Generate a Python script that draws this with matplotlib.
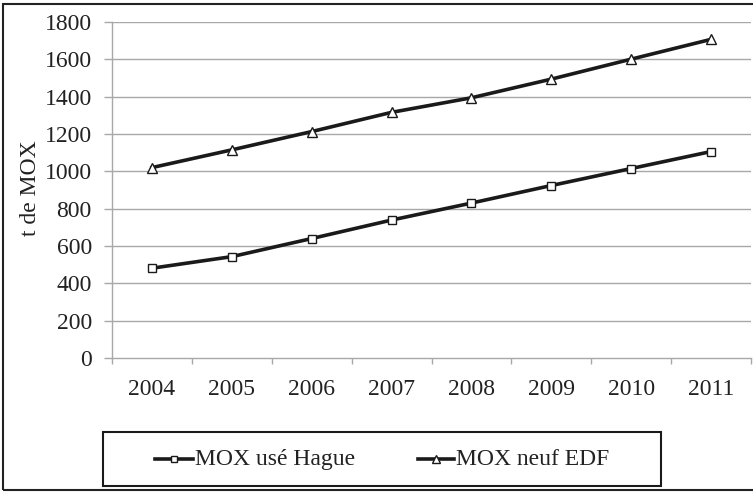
import matplotlib
matplotlib.use("Agg")
import matplotlib.pyplot as plt
from matplotlib.lines import Line2D
from matplotlib.patches import Rectangle
from matplotlib.font_manager import FontProperties
import numpy as np

years = ["2004", "2005", "2006", "2007", "2008", "2009", "2010", "2011"]
mox_use_hague = [481, 543, 640, 739, 830, 924, 1015, 1106]
mox_neuf_edf = [1020, 1115, 1213, 1316, 1394, 1494, 1601, 1707]
series_names = ["MOX usé Hague", "MOX neuf EDF"]
y_ticks = [0, 200, 400, 600, 800, 1000, 1200, 1400, 1600, 1800]

plt.rcParams['font.family'] = 'serif'
plt.rcParams['font.serif'] = ['Liberation Serif', 'DejaVu Serif']
FS = 17
fp = FontProperties(family='Liberation Serif', size=FS)

W, H = 753, 494
fig = plt.figure(figsize=(W / 100, H / 100), dpi=100)
fig.patch.set_facecolor("white")

ax = fig.add_axes([112 / W, 1 - 358 / H, (751 - 112) / W, (358 - 22) / H])
x = np.arange(len(years))
grid_c = "#a8a8a8"
ink = "#1a1a1a"
txt = "#222222"

ax.plot(x, mox_use_hague, color=ink, lw=2.6, marker="s", ms=6,
        mfc="white", mec=ink, mew=1.0, zorder=3)
ax.plot(x, mox_neuf_edf, color=ink, lw=2.6, marker="^", ms=6.5,
        mfc="white", mec=ink, mew=1.0, zorder=3)

ax.set_xlim(-0.5, len(years) - 0.5)
ax.set_ylim(0, 1800)
ax.set_yticks(y_ticks)
ax.set_yticklabels([str(v) for v in y_ticks], fontproperties=fp, color=txt)
ax.set_xticks(x)
ax.set_xticklabels(years, fontproperties=fp, color=txt)
ax.set_xticks(np.arange(-0.5, len(years)), minor=True)
ax.tick_params(axis="x", which="major", length=0, pad=15)
ax.tick_params(axis="x", which="minor", length=4, color=grid_c, width=1)
ax.tick_params(axis="y", length=5.5, color=grid_c, width=1, pad=9)
for yv in y_ticks[1:]:
    ax.axhline(yv, color=grid_c, lw=1.0, zorder=1)
for s in ["top", "right"]:
    ax.spines[s].set_visible(False)
for s in ["left", "bottom"]:
    ax.spines[s].set_color(grid_c)
    ax.spines[s].set_linewidth(1.0)

fig.text(30 / W, 1 - 188 / H, "t de MOX", rotation=90, fontproperties=fp,
         ha="center", va="center", color=txt)

# legend, built by hand so the serif font is kept
leg_y = 1 - 459 / H
markers = ["s", "^"]
msizes = [5, 5.5]
handle_spans = [(155, 193), (418, 454)]
for name, mk, msz, (x0, x1) in zip(series_names, markers, msizes, handle_spans):
    fig.add_artist(Line2D([x0 / W, x1 / W], [leg_y, leg_y], transform=fig.transFigure,
                          color=ink, lw=2.6))
    fig.add_artist(Line2D([(x0 + x1) / 2 / W], [leg_y], transform=fig.transFigure,
                          marker=mk, ms=msz, mfc="white", mec=ink, mew=1.0, lw=0))
    fig.text((x1 + 2) / W, leg_y, name, fontproperties=fp, color=txt,
             ha="left", va="center")

# legend frame
fig.patches.append(Rectangle((103 / W, 1 - 486 / H), (661 - 103) / W, (486 - 432) / H,
                             transform=fig.transFigure, fill=False,
                             edgecolor=ink, lw=1.5))
# outer frame
fig.patches.append(Rectangle((3 / W, 1 - 490 / H), (760 - 3) / W, (490 - 4) / H,
                             transform=fig.transFigure, fill=False,
                             edgecolor=txt, lw=1.5))

fig.savefig("out.png", dpi=100, facecolor="white")
